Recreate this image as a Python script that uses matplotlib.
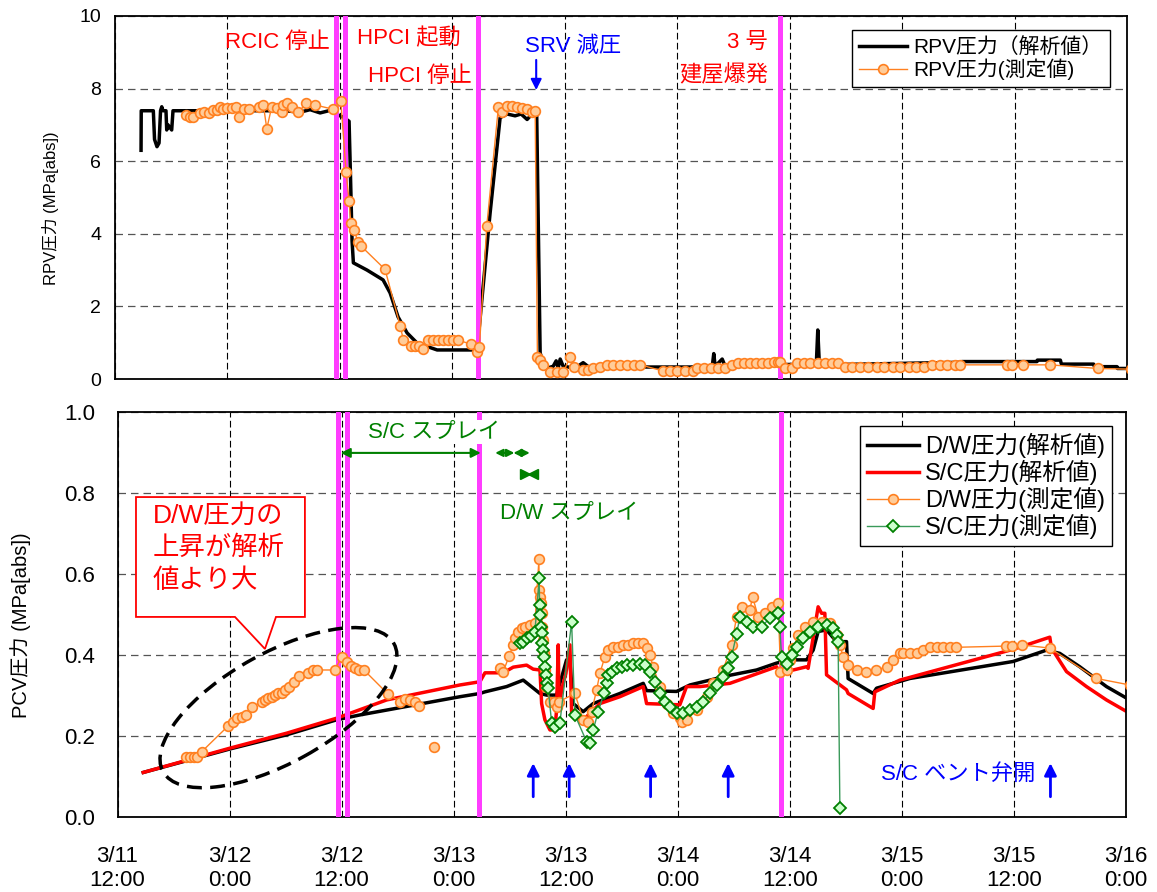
import numpy as np
import matplotlib
matplotlib.use('Agg')
import matplotlib.pyplot as plt
from matplotlib.patches import Ellipse, Polygon
from matplotlib.transforms import ScaledTranslation
from matplotlib.ticker import FormatStrFormatter

plt.rcParams['font.family'] = ['Liberation Sans', 'Noto Sans CJK JP', 'DejaVu Sans']

# time axis: hours after 3/11 12:00
xtick_hours = list(range(0, 109, 12))
xtick_labels = ['3/11\n12:00', '3/12\n0:00', '3/12\n12:00', '3/13\n0:00', '3/13\n12:00',
                '3/14\n0:00', '3/14\n12:00', '3/15\n0:00', '3/15\n12:00', '3/16\n0:00']
event_hours = [23.6, 24.58, 38.7, 71.02]   # RCIC停止, HPCI起動, HPCI停止, 3号建屋爆発
vent_hours = [44.52, 48.37, 57.09, 65.4, 99.91]

# RPV圧力 解析値
rpv_calc_t = [2.78, 2.8, 4.09, 4.22, 4.48, 4.7, 4.86, 4.99, 5.12, 5.44,
              5.52, 5.66, 6.05, 6.19, 18.15, 19.75, 20.82, 21.89, 22.96, 23.59,
              24.45, 24.98, 25.14, 25.3, 25.44, 26.9, 28.61, 29.36, 30.21, 31.17,
              32.24, 34.38, 38.65, 39.18, 40.03, 41.1, 41.85, 42.7, 43.34, 43.98,
              44.52, 45.0, 45.37, 45.69, 46.12, 46.76, 47.08, 47.29, 47.51, 47.83,
              49.11, 49.96, 50.71, 56.05, 61.39, 63.74, 63.9, 64.05, 64.8, 65.12,
              66.19, 71.0, 73.13, 74.85, 75.0, 75.16, 77.4, 90.21, 90.4, 98.4,
              98.43, 100.89, 101.0, 104.44, 104.52, 106.94, 106.97, 108.36]
rpv_calc_p = [6.3, 7.39, 7.39, 6.6, 6.4, 6.5, 7.39, 7.5, 7.39, 7.39,
              6.86, 7.0, 6.86, 7.39, 7.39, 7.35, 7.42, 7.33, 7.4, 7.3,
              7.2, 7.1, 5.5, 3.8, 3.2, 3.0, 2.73, 2.37, 1.71, 1.27,
              0.99, 0.8, 0.8, 2.26, 4.57, 7.2, 7.3, 7.25, 7.3, 7.15,
              7.3, 7.36, 0.72, 0.44, 0.3, 0.35, 0.5, 0.3, 0.55, 0.35,
              0.3, 0.45, 0.3, 0.33, 0.33, 0.35, 0.7, 0.35, 0.55, 0.35,
              0.4, 0.4, 0.4, 0.45, 1.35, 0.45, 0.4, 0.46, 0.48, 0.48,
              0.52, 0.52, 0.41, 0.41, 0.34, 0.34, 0.29, 0.29]

# RPV圧力 測定値
rpv_meas_t = [7.55, 8.0, 8.36, 9.07, 9.5, 10.07, 10.43, 10.86, 11.21, 11.56,
              11.92, 12.46, 12.92, 13.27, 13.77, 14.34, 15.4, 15.83, 16.2, 16.73,
              17.26, 17.8, 17.9, 18.33, 18.93, 19.57, 20.39, 21.35, 23.3, 24.1,
              24.66, 24.98, 25.16, 25.55, 25.91, 26.23, 28.82, 30.43, 30.78, 31.57,
              32.03, 32.45, 32.85, 33.45, 33.98, 34.51, 35.05, 35.58, 36.12, 36.65,
              37.97, 38.61, 38.89, 39.68, 40.92, 41.28, 41.82, 42.35, 42.88, 43.42,
              43.95, 44.49, 44.84, 45.08, 45.37, 45.72, 46.44, 47.15, 47.86, 48.57,
              49.0, 49.96, 50.5, 51.03, 51.78, 52.49, 53.17, 53.91, 54.66, 55.41,
              56.05, 58.5, 59.26, 60.0, 60.85, 61.7, 62.13, 62.88, 63.63, 64.38,
              65.12, 65.84, 66.5, 67.15, 67.79, 68.43, 69.07, 69.71, 70.35, 70.78,
              71.0, 71.5, 72.2, 72.8, 73.5, 74.2, 75.0, 75.8, 76.5, 77.2,
              77.9, 78.7, 79.5, 80.4, 81.3, 82.1, 83.0, 83.8, 84.7, 85.5,
              86.3, 87.2, 88.0, 88.8, 89.6, 90.2, 95.2, 95.73, 96.86, 99.82,
              104.87, 108.4]
rpv_meas_p = [7.27, 7.21, 7.21, 7.32, 7.36, 7.32, 7.41, 7.41, 7.5, 7.43,
              7.46, 7.46, 7.5, 7.21, 7.44, 7.44, 7.5, 7.55, 6.9, 7.5,
              7.46, 7.35, 7.55, 7.59, 7.5, 7.35, 7.59, 7.55, 7.43, 7.66,
              5.71, 4.91, 4.31, 4.1, 3.77, 3.67, 3.02, 1.47, 1.07, 0.92,
              0.92, 0.92, 0.83, 1.07, 1.07, 1.07, 1.07, 1.07, 1.07, 1.07,
              0.96, 0.74, 0.89, 4.22, 7.5, 7.35, 7.52, 7.52, 7.48, 7.46,
              7.43, 7.36, 7.39, 0.6, 0.52, 0.39, 0.2, 0.2, 0.2, 0.6,
              0.34, 0.25, 0.25, 0.3, 0.34, 0.39, 0.39, 0.39, 0.39, 0.39,
              0.39, 0.22, 0.22, 0.22, 0.22, 0.22, 0.3, 0.3, 0.3, 0.3,
              0.3, 0.39, 0.45, 0.45, 0.45, 0.45, 0.45, 0.45, 0.46, 0.48,
              0.48, 0.3, 0.3, 0.43, 0.43, 0.43, 0.43, 0.43, 0.43, 0.43,
              0.34, 0.34, 0.34, 0.34, 0.34, 0.34, 0.34, 0.34, 0.34, 0.34,
              0.34, 0.39, 0.39, 0.39, 0.39, 0.39, 0.39, 0.39, 0.39, 0.39,
              0.29, 0.27]

# D/W圧力 解析値
dw_calc_t = [2.76, 12.04, 18.12, 23.47, 25.96, 32.39, 36.67, 38.81, 39.35, 41.67,
             43.45, 45.24, 45.95, 47.02, 48.09, 48.45, 48.8, 49.87, 50.94, 53.8,
             56.3, 56.66, 59.87, 61.3, 65.58, 68.44, 70.58, 72.0, 73.79, 74.5,
             75.03, 75.93, 77.0, 78.07, 78.24, 80.92, 81.28, 84.85, 95.91, 99.49,
             100.91, 103.05, 105.91, 108.4]
dw_calc_p = [0.11, 0.168, 0.203, 0.24, 0.252, 0.279, 0.297, 0.305, 0.309, 0.322,
             0.338, 0.305, 0.301, 0.301, 0.388, 0.384, 0.28, 0.26, 0.28, 0.305,
             0.33, 0.312, 0.31, 0.326, 0.35, 0.363, 0.38, 0.388, 0.388, 0.412,
             0.458, 0.462, 0.433, 0.433, 0.342, 0.305, 0.318, 0.342, 0.384, 0.412,
             0.404, 0.371, 0.322, 0.289]

# S/C圧力 解析値
sc_calc_t = [2.76, 12.04, 18.12, 23.47, 28.82, 36.67, 38.81, 39.35, 41.31, 42.38,
             43.81, 44.52, 45.24, 45.42, 45.77, 46.31, 46.84, 47.02, 47.2, 47.3,
             47.56, 48.02, 48.45, 48.63, 48.98, 49.52, 50.24, 51.66, 53.8, 56.3,
             56.66, 60.22, 60.94, 62.37, 65.58, 70.58, 70.93, 73.79, 73.96, 75.03,
             75.4, 75.75, 75.93, 78.07, 78.24, 80.92, 81.1, 83.78, 95.91, 99.84,
             100.02, 101.63, 103.77, 105.91, 108.4]
sc_calc_p = [0.11, 0.17, 0.207, 0.244, 0.289, 0.326, 0.334, 0.356, 0.356, 0.37,
             0.375, 0.365, 0.363, 0.28, 0.24, 0.215, 0.215, 0.264, 0.425, 0.264,
             0.314, 0.355, 0.425, 0.256, 0.264, 0.235, 0.248, 0.28, 0.297, 0.322,
             0.28, 0.277, 0.322, 0.322, 0.33, 0.371, 0.355, 0.371, 0.367, 0.519,
             0.503, 0.503, 0.351, 0.314, 0.305, 0.268, 0.309, 0.338, 0.414, 0.444,
             0.417, 0.359, 0.322, 0.289, 0.256]

# D/W圧力 測定値 (nan = no line)
dw_meas_t = [7.33, 7.76, 8.19, 8.54, 9.01, 11.86, 12.4, 12.83, 13.3, 13.76,
             14.37, 15.44, 15.79, 16.15, 16.51, 16.86, 17.22, 17.58, 17.93, 18.36,
             18.9, 19.46, 20.43, 20.96, 21.39, 23.29, 24.0, 24.6, 25.0, 25.43,
             25.86, 26.39, 28.99, 30.25, 30.78, 31.32, 31.85, 32.31, np.nan, 33.89,
             np.nan, 40.95, 41.31, 41.95, 42.38, 42.56, 42.91, 43.28, 43.63, 44.16,
             44.7, 45.13, 45.15, 45.24, 45.34, 45.42, 45.48, 45.59, 45.66, 45.77,
             45.88, 46.31, 46.77, 47.09, 47.3, 48.98, 49.87, 50.41, 50.77, 51.31,
             51.66, 52.2, 52.55, 53.08, 53.62, 54.15, 54.69, 55.22, 55.76, 56.3,
             56.66, 57.01, 57.37, 58.08, 58.8, 59.51, 60.22, 60.5, 60.94, 62.01,
             63.08, 63.79, 64.86, 65.76, 66.3, 66.83, 67.72, 68.01, 68.61, 69.33,
             70.04, 70.75, 71.0, 71.65, 72.0, 72.36, 72.89, 73.61, 74.5, 75.4,
             76.28, 77.0, 77.36, 77.71, 78.25, 79.14, 80.21, 81.28, 82.36, 83.06,
             83.78, 84.13, 84.85, 85.57, 86.27, 86.99, 87.71, 88.42, 89.13, 89.78,
             95.13, 95.74, 96.81, 99.84, 104.84, 108.4]
dw_meas_p = [0.147, 0.147, 0.147, 0.149, 0.161, 0.225, 0.235, 0.244, 0.248, 0.252,
             0.271, 0.285, 0.289, 0.293, 0.297, 0.301, 0.305, 0.307, 0.314, 0.32,
             0.334, 0.348, 0.355, 0.363, 0.363, 0.363, 0.396, 0.382, 0.374, 0.367,
             0.363, 0.363, 0.303, 0.285, 0.291, 0.289, 0.285, 0.274, np.nan, 0.174,
             np.nan, 0.367, 0.359, 0.398, 0.425, 0.441, 0.458, 0.466, 0.47, 0.474,
             0.478, 0.636, 0.56, 0.544, 0.528, 0.503, 0.47, 0.437, 0.404, 0.363,
             0.322, 0.285, 0.285, 0.272, 0.285, 0.305, 0.24, 0.235, 0.26, 0.314,
             0.355, 0.396, 0.412, 0.419, 0.42, 0.425, 0.425, 0.429, 0.429, 0.429,
             0.417, 0.4, 0.371, 0.322, 0.28, 0.256, 0.244, 0.235, 0.24, 0.264,
             0.297, 0.33, 0.363, 0.425, 0.494, 0.519, 0.511, 0.544, 0.494, 0.503,
             0.519, 0.528, 0.359, 0.363, 0.388, 0.417, 0.449, 0.47, 0.482, 0.482,
             0.478, 0.449, 0.425, 0.396, 0.375, 0.363, 0.359, 0.363, 0.371, 0.388,
             0.404, 0.404, 0.406, 0.406, 0.412, 0.419, 0.419, 0.419, 0.419, 0.419,
             0.422, 0.422, 0.425, 0.417, 0.342, 0.326]

# S/C圧力 測定値
sc_meas_t = [43.09, 43.45, 43.81, 44.24, 44.7, 45.16, 45.2, 45.24, 45.34, 45.42,
             45.48, 45.56, 45.66, 45.77, 45.88, 46.02, 46.12, 46.49, 46.84, 47.38,
             48.63, 48.98, 50.24, 50.59, 50.94, 51.48, 52.09, 52.38, 52.55, 52.91,
             53.45, 53.98, 54.52, 55.22, 55.94, 56.48, 57.01, 57.55, 58.08, 58.62,
             59.15, 59.87, 60.58, 61.29, 62.01, 62.72, 63.44, 64.15, 64.86, 65.4,
             65.76, 66.3, 66.65, 67.37, 68.07, 68.97, 69.86, 70.75, 70.93, 71.11,
             71.65, 72.18, 72.72, 73.43, 74.15, 75.03, 75.93, 76.64, 77.0, 77.17,
             77.36]
sc_meas_p = [0.429, 0.433, 0.441, 0.447, 0.458, 0.589, 0.523, 0.499, 0.47, 0.454,
             0.429, 0.412, 0.396, 0.371, 0.351, 0.33, 0.318, 0.233, 0.223, 0.233,
             0.482, 0.252, 0.186, 0.182, 0.215, 0.26, 0.305, 0.33, 0.351, 0.359,
             0.367, 0.371, 0.375, 0.375, 0.379, 0.375, 0.359, 0.334, 0.305, 0.285,
             0.272, 0.256, 0.256, 0.264, 0.272, 0.285, 0.305, 0.326, 0.346, 0.367,
             0.396, 0.452, 0.494, 0.482, 0.47, 0.47, 0.491, 0.503, 0.47, 0.396,
             0.379, 0.4, 0.42, 0.441, 0.458, 0.47, 0.474, 0.466, 0.449, 0.433,
             0.021]

MAGENTA = '#FF3DFF'
ORANGE = '#FF8020'
ORANGE_FACE = '#FFCC99'
GREEN = '#008000'

fig = plt.figure(figsize=(11.57, 8.92), dpi=100)
ax1 = fig.add_axes([115 / 1157, (892 - 379) / 892, 1012 / 1157, 363 / 892])
ax2 = fig.add_axes([117.5 / 1157, (892 - 817) / 892, 1008.5 / 1157, 405 / 892])

for ax in (ax1, ax2):
    ax.set_xlim(0, 108)
    ax.set_xticks(xtick_hours)
    ax.set_axisbelow(True)
    ax.grid(True, axis='x', color='black', lw=0.8, linestyle=(0, (6, 3)))
    ax.grid(True, axis='y', color='#555555', lw=0.9, linestyle=(0, (6, 4)))
    ax.tick_params(length=0)
    for sp in ax.spines.values():
        sp.set_linewidth(1.3)
    for h in event_hours:
        ax.axvline(h, color=MAGENTA, lw=3.6, zorder=3)

# ---- upper panel ----
ax1.set_ylim(0, 10)
ax1.set_yticks(range(0, 11, 2))
ax1.tick_params(axis='y', labelsize=14, pad=10)
ax1.tick_params(axis='x', labelbottom=False)
ax1.set_ylabel('RPV圧力 (MPa[abs])', fontsize=12)
ax1.yaxis.set_label_coords(-0.055, 0.47)

ax1.plot(rpv_calc_t, rpv_calc_p, color='black', lw=2.5, zorder=2, label='RPV圧力（解析値）')
ax1.plot(rpv_meas_t, rpv_meas_p, color=ORANGE, lw=1.0, marker='o', ms=7,
         mfc=ORANGE_FACE, mec=ORANGE, mew=1.2, zorder=4, label='RPV圧力(測定値)')

ax1.legend(loc='upper right', bbox_to_anchor=(0.983, 0.961), borderaxespad=0,
           fontsize=15, frameon=True, fancybox=False, framealpha=1, edgecolor='black',
           handlelength=2.3, handletextpad=0.3, labelspacing=0.05, borderpad=0.35)

ax1.text(22.95, 9.26, 'RCIC 停止', color='red', fontsize=16, ha='right', va='center')
ax1.text(25.84, 9.39, 'HPCI 起動', color='red', fontsize=16, ha='left', va='center')
ax1.text(38.11, 8.32, 'HPCI 停止', color='red', fontsize=16, ha='right', va='center')
ax1.text(48.84, 9.17, 'SRV 減圧', color='blue', fontsize=16, ha='center', va='center')
ax1.text(69.7, 9.26, '3 号', color='red', fontsize=16, ha='right', va='center')
ax1.text(69.7, 8.37, '建屋爆発', color='red', fontsize=16, ha='right', va='center')
ax1.annotate('', xy=(44.95, 7.96), xytext=(44.95, 8.79),
             arrowprops=dict(arrowstyle='-|>', color='blue', lw=1.5, mutation_scale=16,
                             shrinkA=0, shrinkB=0))

# ---- lower panel ----
ax2.set_ylim(0, 1.0)
ax2.set_yticks(np.arange(0, 1.01, 0.2))
ax2.yaxis.set_major_formatter(FormatStrFormatter('%.1f'))
ax2.tick_params(axis='y', labelsize=16, pad=16)
ax2.set_xticklabels(xtick_labels, fontsize=16, linespacing=1.15)
ax2.tick_params(axis='x', pad=21)
ax2.set_ylabel('PCV圧力 (MPa[abs])', fontsize=14.5)
ax2.yaxis.set_label_coords(-0.086, 0.474)

ax2.plot(dw_calc_t, dw_calc_p, color='black', lw=2.5, zorder=2, label='D/W圧力(解析値)')
ax2.plot(sc_calc_t, sc_calc_p, color='red', lw=2.5, zorder=2.1, label='S/C圧力(解析値)')
ax2.plot(dw_meas_t, dw_meas_p, color=ORANGE, lw=1.0, marker='o', ms=7,
         mfc=ORANGE_FACE, mec=ORANGE, mew=1.2, zorder=4, label='D/W圧力(測定値)')
ax2.plot(sc_meas_t, sc_meas_p, color='#3A9A5A', lw=1.0, marker='D', ms=6,
         mfc='#CCFFCC', mec=GREEN, mew=1.3, zorder=5, label='S/C圧力(測定値)')

ax2.legend(loc='upper right', bbox_to_anchor=(0.986, 0.965), borderaxespad=0,
           fontsize=17, frameon=True, fancybox=False, framealpha=1, edgecolor='black',
           handlelength=2.2, handletextpad=0.25, labelspacing=0.08, borderpad=0.3)

# spray notes
arrow_kw = dict(color=GREEN, lw=1.5, shrinkA=0, shrinkB=0)
ax2.text(33.9, 0.95, 'S/C スプレイ', color=GREEN, fontsize=16, ha='center', va='center',
         zorder=6, bbox=dict(facecolor='white', edgecolor='none', pad=1))
ax2.annotate('', xy=(23.9, 0.899), xytext=(38.9, 0.899),
             arrowprops=dict(arrowstyle='<|-|>', mutation_scale=14, **arrow_kw), zorder=6)
ax2.annotate('', xy=(40.45, 0.899), xytext=(42.5, 0.899),
             arrowprops=dict(arrowstyle='<|-|>', mutation_scale=11, **arrow_kw), zorder=6)
ax2.annotate('', xy=(42.4, 0.899), xytext=(44.15, 0.899),
             arrowprops=dict(arrowstyle='<|-|>', mutation_scale=11, **arrow_kw), zorder=6)
ax2.plot([43.68], [0.848], marker='>', color=GREEN, ms=7, zorder=6)
ax2.plot([44.54], [0.848], marker='<', color=GREEN, ms=7, zorder=6)
ax2.text(48.34, 0.75, 'D/W スプレイ', color=GREEN, fontsize=16, ha='center', va='center')

# vent arrows
for h in vent_hours:
    ax2.annotate('', xy=(h, 0.133), xytext=(h, 0.05),
                 arrowprops=dict(arrowstyle='-|>', color='blue', lw=2, mutation_scale=18,
                                 shrinkA=0, shrinkB=0))
ax2.text(90.04, 0.104, 'S/C ベント弁開', color='blue', fontsize=16, ha='center', va='center')

# callout
box_l, box_r, box_t, box_b = 1.98, 20.07, 0.79, 0.494
callout = Polygon([(box_l, box_t), (box_r, box_t), (box_r, box_b), (16.97, box_b),
                   (15.79, 0.415), (12.58, box_b), (box_l, box_b)], closed=True,
                  facecolor='white', edgecolor='red', lw=1.3, zorder=6)
ax2.add_patch(callout)
for txt, yy in zip(['D/W圧力の', '上昇が解析', '値より大'], [0.741, 0.664, 0.583]):
    ax2.text(3.81, yy, txt, color='red', fontsize=19, ha='left', va='center', zorder=7)

# dashed ellipse around early data
trans = fig.dpi_scale_trans + ScaledTranslation(17.24, 0.27, ax2.transData)
ell = Ellipse((0, 0), 2.64, 1.10, angle=29, transform=trans, fill=False,
              edgecolor='black', lw=2.5, linestyle=(0, (4.3, 2.4)), zorder=6)
ax2.add_patch(ell)

fig.savefig('out.png', dpi=100)
